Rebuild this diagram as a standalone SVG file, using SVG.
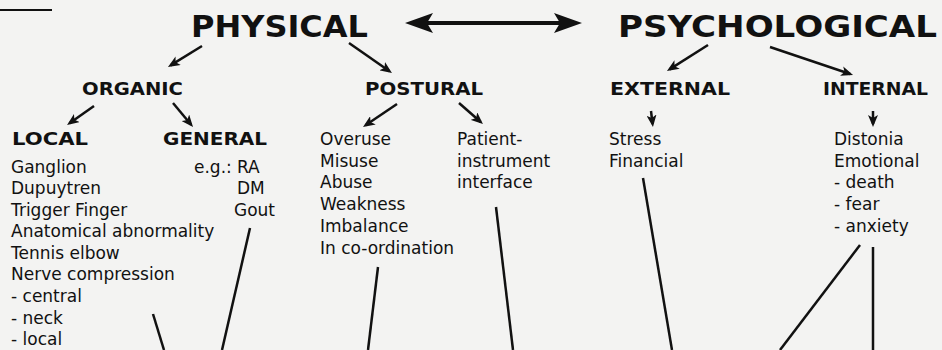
<svg xmlns="http://www.w3.org/2000/svg" width="942" height="350" viewBox="0 0 942 350">
<style>
.big{font-family:"DejaVu Sans",sans-serif;font-weight:bold;font-size:31px;fill:#111}
.hd{font-family:"DejaVu Sans",sans-serif;font-weight:bold;font-size:18px;fill:#111}
.tx{font-family:"DejaVu Sans",sans-serif;font-size:17px;fill:#111}
.ln{stroke:#111;stroke-width:2.5;fill:none}
.ar{stroke:#111;stroke-width:2.5;fill:none;marker-end:url(#ah)}
</style>
<defs>
<marker id="ah" viewBox="0 0 12 10" refX="9" refY="5" markerWidth="12" markerHeight="10" markerUnits="userSpaceOnUse" orient="auto">
<path d="M0,0 L12,5 L0,10 L3,5 z" fill="#111"/>
</marker>
<marker id="bh" viewBox="0 0 28 20" refX="22" refY="10" markerWidth="28" markerHeight="20" markerUnits="userSpaceOnUse" orient="auto-start-reverse">
<path d="M0,0 L28,10 L0,20 L6,10 z" fill="#111"/>
</marker>
</defs>
<rect width="942" height="350" fill="#f3f3f2"/>
<g id="caption">
<line x1="0" y1="10" x2="52" y2="10" stroke="#111" stroke-width="2"/>
</g>
<g id="physical"><text class="big" x="191" y="37" textLength="177" lengthAdjust="spacingAndGlyphs">PHYSICAL</text></g>
<g id="psychological"><text class="big" x="618" y="37" textLength="319" lengthAdjust="spacingAndGlyphs">PSYCHOLOGICAL</text></g>
<g id="organic"><text class="hd" x="82" y="95" textLength="101" lengthAdjust="spacingAndGlyphs">ORGANIC</text></g>
<g id="postural"><text class="hd" x="365" y="95" textLength="118" lengthAdjust="spacingAndGlyphs">POSTURAL</text></g>
<g id="external"><text class="hd" x="610" y="95" textLength="120" lengthAdjust="spacingAndGlyphs">EXTERNAL</text></g>
<g id="internal"><text class="hd" x="823" y="95" textLength="105" lengthAdjust="spacingAndGlyphs">INTERNAL</text></g>
<g id="local">
<text class="hd" x="12" y="145" textLength="76" lengthAdjust="spacingAndGlyphs">LOCAL</text>
<text class="tx" x="11" y="173">Ganglion</text>
<text class="tx" x="11" y="194">Dupuytren</text>
<text class="tx" x="11" y="216">Trigger Finger</text>
<text class="tx" x="11" y="237">Anatomical abnormality</text>
<text class="tx" x="11" y="259">Tennis elbow</text>
<text class="tx" x="11" y="280">Nerve compression</text>
<text class="tx" x="11" y="302">- central</text>
<text class="tx" x="11" y="324">- neck</text>
<text class="tx" x="11" y="345">- local</text>
</g>
<g id="general">
<text class="hd" x="163" y="145" textLength="104" lengthAdjust="spacingAndGlyphs">GENERAL</text>
<text class="tx" x="194" y="173">e.g.:</text>
<text class="tx" x="237" y="173">RA</text>
<text class="tx" x="237" y="194">DM</text>
<text class="tx" x="234" y="216">Gout</text>
</g>
<g id="postural-list">
<text class="tx" x="320" y="145">Overuse</text>
<text class="tx" x="320" y="167">Misuse</text>
<text class="tx" x="320" y="188">Abuse</text>
<text class="tx" x="320" y="210">Weakness</text>
<text class="tx" x="320" y="232">Imbalance</text>
<text class="tx" x="320" y="254">In co-ordination</text>
</g>
<g id="interface">
<text class="tx" x="457" y="145">Patient-</text>
<text class="tx" x="457" y="167">instrument</text>
<text class="tx" x="457" y="188">interface</text>
</g>
<g id="external-list">
<text class="tx" x="609" y="145">Stress</text>
<text class="tx" x="609" y="167">Financial</text>
</g>
<g id="internal-list">
<text class="tx" x="834" y="145">Distonia</text>
<text class="tx" x="834" y="167">Emotional</text>
<text class="tx" x="834" y="188">- death</text>
<text class="tx" x="834" y="210">- fear</text>
<text class="tx" x="834" y="232">- anxiety</text>
</g>
<g id="connectors">
<line x1="411" y1="23" x2="576" y2="23" stroke="#111" stroke-width="4" marker-start="url(#bh)" marker-end="url(#bh)"/>
<line class="ar" x1="202" y1="46" x2="170.5" y2="65.4"/>
<line class="ar" x1="349" y1="43" x2="389.5" y2="71.3"/>
<line class="ar" x1="94" y1="106" x2="69.5" y2="123.3"/>
<line class="ar" x1="173" y1="103" x2="191.1" y2="124.7"/>
<line class="ar" x1="397" y1="104" x2="365.5" y2="125.3"/>
<line class="ar" x1="459" y1="103" x2="480.7" y2="122"/>
<line class="ar" x1="708" y1="45" x2="669.5" y2="69.4"/>
<line class="ar" x1="770" y1="47" x2="850.2" y2="74"/>
<line class="ar" x1="651" y1="111" x2="652.6" y2="124"/>
<line class="ar" x1="873" y1="111" x2="873" y2="124"/>
<line class="ln" x1="153" y1="314" x2="164" y2="350"/>
<line class="ln" x1="250" y1="228" x2="222" y2="350"/>
<line class="ln" x1="378" y1="267" x2="368" y2="350"/>
<line class="ln" x1="496" y1="207" x2="513" y2="350"/>
<line class="ln" x1="643" y1="178" x2="672" y2="350"/>
<line class="ln" x1="860" y1="245" x2="780" y2="350"/>
<line class="ln" x1="873" y1="247" x2="873" y2="350"/>
</g>
</svg>
